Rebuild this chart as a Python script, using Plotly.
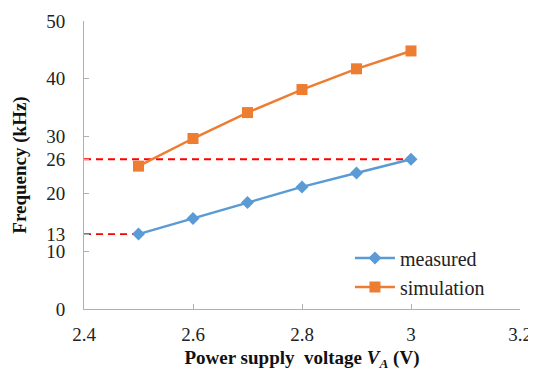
import plotly.graph_objects as go

voltage = [2.5, 2.6, 2.7, 2.8, 2.9, 3.0]
measured = [13.0, 15.7, 18.5, 21.2, 23.6, 26.0]
simulation = [24.8, 29.6, 34.1, 38.1, 41.7, 44.8]
y_ticks = [0, 10, 13, 20, 26, 30, 40, 50]
x_ticks = [2.4, 2.6, 2.8, 3.0, 3.2]
x_tick_text = ["2.4", "2.6", "2.8", "3", "3.2"]
ref_levels = [13, 26]
ref_x_end = [2.5, 3.0]

FONT = "Liberation Serif"
AXIS_COLOR = "#B0B0B0"
fig = go.Figure()
fig.add_trace(go.Scatter(x=voltage, y=measured, name="measured", mode="lines+markers",
                         line=dict(color="#5B9BD5", width=2.5),
                         marker=dict(symbol="diamond", size=10, color="#5B9BD5")))
fig.add_trace(go.Scatter(x=voltage, y=simulation, name="simulation", mode="lines+markers",
                         line=dict(color="#ED7D31", width=2.5),
                         marker=dict(symbol="square", size=11, color="#ED7D31")))

for lvl, xe in zip(ref_levels, ref_x_end):
    fig.add_shape(type="line", xref="x", yref="y", x0=x_ticks[0], x1=xe, y0=lvl, y1=lvl,
                  line=dict(color="#FF0000", width=1.8, dash="7px,5px"), layer="below")

fig.update_layout(
    width=536, height=371,
    margin=dict(l=76, r=24, t=13, b=70),
    paper_bgcolor="white", plot_bgcolor="white",
    font=dict(family=FONT, size=19, color="#222"),
    showlegend=True,
    legend=dict(x=0.61, y=0.245, xanchor="left", yanchor="top", bgcolor="rgba(0,0,0,0)",
                font=dict(family=FONT, size=20, color="#222"), itemwidth=40,
                tracegroupgap=0),
    xaxis=dict(range=[2.4, 3.2], tickvals=x_ticks, ticktext=x_tick_text, automargin=False,
               showgrid=False, zeroline=False, showline=True, linecolor=AXIS_COLOR, linewidth=1,
               ticks="inside", ticklen=5, tickcolor=AXIS_COLOR,
               ticklabelstandoff=8,
               tickfont=dict(family=FONT, size=19, color="#222"),
               title=dict(text="<b>Power supply  voltage <i>V<sub>A</sub></i> (V)</b>",
                          font=dict(family=FONT, size=19, color="#111"), standoff=6)),
    yaxis=dict(range=[0, 50], tickvals=y_ticks, showgrid=False, zeroline=False, automargin=False,
               showline=True, linecolor=AXIS_COLOR, linewidth=1,
               ticks="inside", ticklen=5, tickcolor=AXIS_COLOR,
               ticklabelstandoff=14,
               tickfont=dict(family=FONT, size=19, color="#222"),
               title=dict(text="<b>Frequency (kHz)</b>",
                          font=dict(family=FONT, size=19, color="#111"), standoff=14)),
)
fig.write_html("out.html")
